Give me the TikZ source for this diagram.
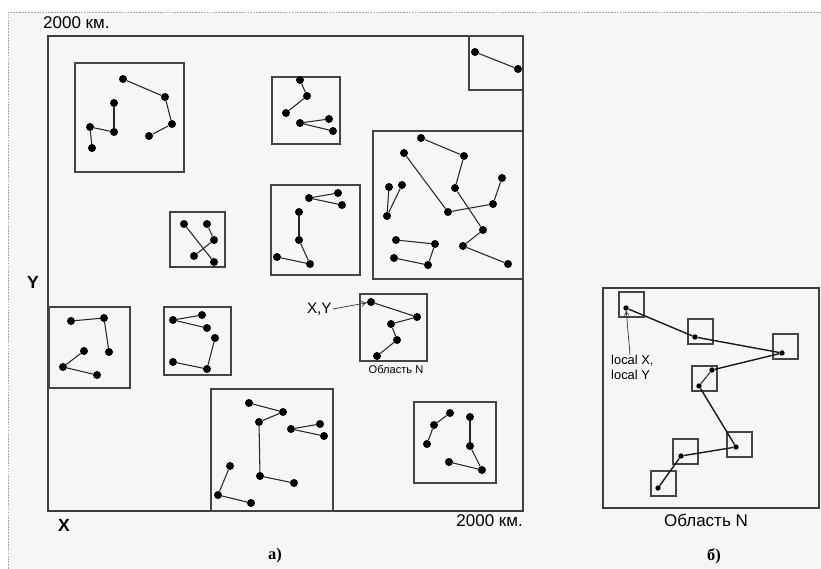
\documentclass[tikz,border=0pt]{standalone}
\usepackage{fontspec}
\setmainfont{Liberation Sans}
\newfontfamily\serifbf{Liberation Serif}
\usetikzlibrary{arrows.meta}
\definecolor{bgc}{HTML}{F6F6F6}
\definecolor{boxc}{HTML}{444444}
\tikzset{
  dot/.style={circle,fill=black,inner sep=0pt,minimum size=2.4mm},
  sdot/.style={circle,fill=black,inner sep=0pt,minimum size=1.6mm},
  link/.style={draw=black!85,line width=0.9pt},
  slink/.style={draw=black!90,line width=1.2pt},
  boxline/.style={draw=boxc,line width=0.9pt},
  frameline/.style={draw=boxc!90!black,line width=1.2pt},
  lbl/.style={inner sep=0pt,font=\fontsize{14.5}{17}\selectfont},
  axis/.style={inner sep=0pt,font=\fontsize{15}{17}\selectfont\bfseries},
}
\begin{document}
\begin{tikzpicture}[x=0.3mm,y=-0.3mm]
\useasboundingbox (0,0) rectangle (821,569);
\fill[white] (0,0) rectangle (821,569);
\fill[bgc] (8,12) rectangle (821,569);
\draw[gray!70,dashed,line width=0.5pt,dash pattern=on 1.5pt off 1pt] (8,569) -- (8,12) -- (821,12);

% ---------- panel a ----------
\draw[frameline] (48,36) rectangle (523,511);
\draw[boxline] (75,63) rectangle (184,172);
\draw[boxline] (272,77) rectangle (340,144);
\draw[boxline] (469,36) rectangle (523,90);
\draw[boxline] (373,131) rectangle (523,279);
\draw[boxline] (170,212) rectangle (225,267);
\draw[boxline] (271,185) rectangle (360,275);
\draw[boxline] (49,307) rectangle (130,388);
\draw[boxline] (164,307) rectangle (231,375);
\draw[boxline] (360,294) rectangle (427,361);
\draw[boxline] (211,389) rectangle (333,511);
\draw[boxline] (414,402) rectangle (496,483);

\foreach \n/\x/\y in {
  A1/123/79, A2/165/97, A3/172/124, A4/149/136, A5/114/103, A6/114/132, A7/90/127, A8/92/148,
  B1/300/80, B2/307/96, B3/286/113, B4/300/123, B5/329/119, B6/333/131,
  C1/475/52, C2/518/69,
  Da/421/138, Db/464/156, Dc/455/188, Dd/404/153, De/448/212, Df/493/204, Dg/502/178,
  Dh/483/230, Di/463/246, Dj/508/264, Dk/389/187, Dl/402/185, Dm/387/216,
  Dn/396/240, Do/435/244, Dp/394/258, Dq/428/265,
  E1/184/224, E2/207/224, E3/214/240, E4/194/256, E5/214/262,
  F1/309/198, F2/338/193, F3/342/205, F4/299/212, F5/299/240, F6/310/264, F7/277/257,
  G1/71/321, G2/104/318, G3/109/352, G4/84/351, G5/63/367, G6/97/375,
  H1/173/320, H2/202/315, H3/207/328, H4/215/338, H5/207/369, H6/173/362,
  N1/371/302, N2/417/317, N3/391/324, N4/397/340, N5/377/356,
  I1/249/403, I2/283/412, I3/259/422, I4/260/476, I5/294/483, I6/291/429,
  I7/320/424, I8/324/436, I9/230/466, I10/218/495, I11/251/503,
  J1/450/413, J2/434/425, J3/427/444, J4/470/417, J5/470/446, J6/482/470, J7/449/462}
  \node[dot] (\n) at (\x,\y) {};

\foreach \a/\b in {
  A1/A2, A2/A3, A3/A4, A5/A6, A6/A7, A7/A8,
  B1/B2, B2/B3, B4/B5, B4/B6,
  C1/C2,
  Da/Db, Db/Dc, Dc/Dh, Dh/Di, Di/Dj, Dd/De, De/Df, Df/Dg, Dk/Dm, Dl/Dm, Dn/Do, Do/Dq, Dq/Dp,
  E1/E5, E2/E3, E3/E4,
  F1/F2, F1/F3, F4/F5, F5/F6, F6/F7,
  G1/G2, G2/G3, G4/G5, G5/G6,
  H1/H2, H1/H3, H4/H5, H5/H6,
  N1/N2, N2/N3, N3/N4, N4/N5,
  I1/I2, I2/I3, I3/I4, I4/I5, I6/I7, I6/I8, I9/I10, I10/I11,
  J1/J2, J2/J3, J4/J5, J5/J6, J6/J7}
  \draw[link] (\a) -- (\b);

\node[lbl,anchor=west] (km1) at (43,23) {2000 км.};
\node[lbl,anchor=east] (km2) at (523,521) {2000 км.};
\node[axis] (ylab) at (33,282) {Y};
\node[axis] (xlab) at (64,525) {X};
\node[inner sep=1pt,font=\fontsize{13}{15}\selectfont,anchor=east] (xy) at (333,309) {X,Y};
\draw[black!80,line width=0.6pt,-{To[length=1.6mm,width=1.8mm]}] (xy.east) -- (N1);
\node[inner sep=0pt,font=\fontsize{9.5}{11}\selectfont] (nlab) at (396,369) {Область N};
\node[inner sep=0pt,font=\fontsize{14}{16}\selectfont\serifbf\bfseries] (pa) at (275,556) {а)};

% ---------- panel b ----------
\draw[frameline] (603,288) rectangle (819,508);
\foreach \x/\y in {619/292, 688/319, 773/334, 692/366, 727/432, 673/439, 651/471}
  \draw[boxline] (\x,\y) rectangle ++(25,25);
\foreach \n/\x/\y in {b1/626/308, b2/695/337, b3/782/353, b4/712/370, b5/699/386,
  b6/736/447, b7/681/456, b8/658/488}
  \node[sdot] (\n) at (\x,\y) {};
\foreach \a/\b in {b1/b2, b2/b3, b3/b4, b5/b6, b6/b7, b7/b8}
  \draw[slink] (\a) -- (\b);
\draw[link] (b4) -- (b5);
\node[inner sep=0pt,font=\fontsize{11}{12.8}\selectfont,align=left,anchor=north west] (loc) at (611,355) {local X,\\local Y};
\draw[black!80,line width=0.6pt,-{To[length=1.4mm,width=1.6mm]}] ([xshift=-2pt]loc.north) -- (b1);
\node[lbl] (nlab2) at (706,520) {Область N};
\node[inner sep=0pt,font=\fontsize{14}{16}\selectfont\serifbf\bfseries] (pb) at (714,556) {б)};
\end{tikzpicture}
\end{document}
